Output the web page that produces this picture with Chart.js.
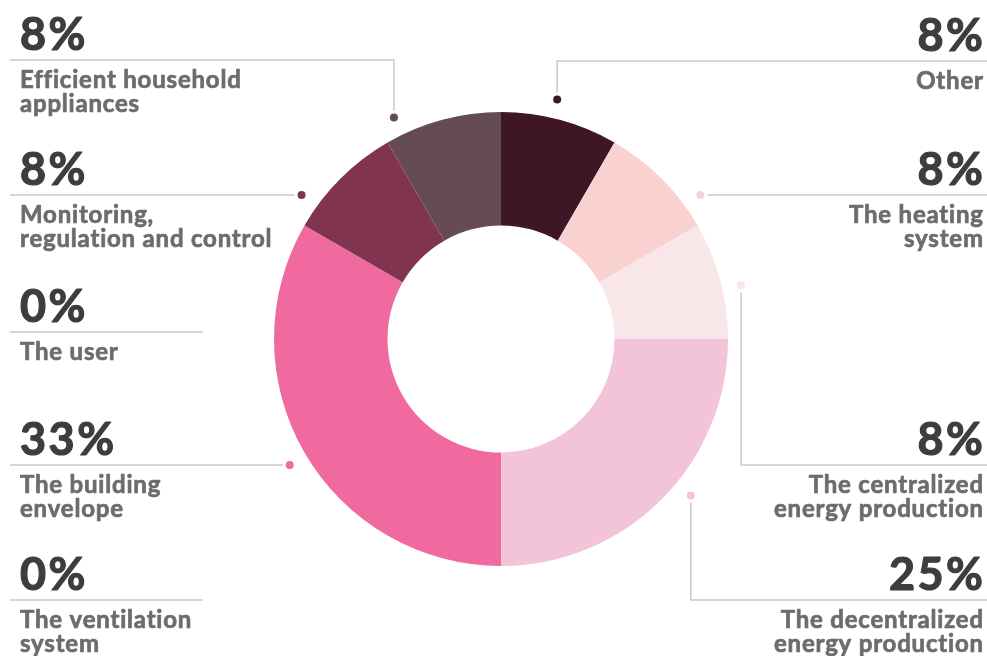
<!DOCTYPE html>
<html>
<head>
<meta charset="utf-8">
<script src="https://cdn.jsdelivr.net/npm/chart.js@4/dist/chart.umd.min.js"></script>
<style>
  html, body { margin: 0; padding: 0; background: #ffffff; }
  canvas { display: block; }
</style>
</head>
<body>
<canvas id="c" width="987" height="656"></canvas>
<script>
// ---- data (clockwise from 12 o'clock) ----
const categories = [
  'Other',
  'The heating system',
  'The centralized energy production',
  'The decentralized energy production',
  'The ventilation system',
  'The building envelope',
  'The user',
  'Monitoring, regulation and control',
  'Efficient household appliances'
];
const shares = [8.33, 8.33, 8.33, 25, 0, 33.33, 0, 8.33, 8.33];
const percentLabels = ['8%', '8%', '8%', '25%', '0%', '33%', '0%', '8%', '8%'];
const labelLines = [
  ['Other'],
  ['The heating', 'system'],
  ['The centralized', 'energy production'],
  ['The decentralized', 'energy production'],
  ['The ventilation', 'system'],
  ['The building', 'envelope'],
  ['The user'],
  ['Monitoring,', 'regulation and control'],
  ['Efficient household', 'appliances']
];

// ---- styles / layout ----
const sliceColors = ['#3e1626', '#f9d1d1', '#f8e6e8', '#f3c3d9', '#e9a6c4', '#f06aa0', '#c4507e', '#813450', '#654c52'];
// callout layout: side, y of the rule, route ('h' dot on rule, 'v' vertical leader, null no dot), angle for 'v' dots
const callouts = [
  { side: 'right', lineY: 61,  route: 'v', angle: 13.2 },
  { side: 'right', lineY: 195, route: 'h' },
  { side: 'right', lineY: 465, route: 'v', angle: 77.4 },
  { side: 'right', lineY: 600, route: 'v', angle: 129.5 },
  { side: 'left',  lineY: 600, route: null, endX: 203 },
  { side: 'left',  lineY: 465, route: 'h' },
  { side: 'left',  lineY: 332, route: null, endX: 203 },
  { side: 'left',  lineY: 195, route: 'h' },
  { side: 'left',  lineY: 60,  route: 'v', angle: 334.2 }
];

function heavyText(ctx, text, x, y, weight) {
  ctx.lineWidth = weight;
  ctx.lineJoin = 'round';
  ctx.strokeStyle = ctx.fillStyle;
  ctx.strokeText(text, x, y);
  ctx.fillText(text, x, y);
}

const calloutPlugin = {
  id: 'callouts',
  afterDraw(chart) {
    const ctx = chart.ctx;
    const meta = chart.getDatasetMeta(0);
    const a0 = meta.data[0];
    const cx = a0.x, cy = a0.y;
    const R = a0.outerRadius + 19;
    const leftX = 10, rightX = 987, textL = 20, textR = 983;
    const gap = 7;
    ctx.save();
    callouts.forEach((c, i) => {
      let dot = null;
      if (c.route === 'h') {
        const dy = c.lineY - cy;
        const dx = Math.sqrt(Math.max(0, R * R - dy * dy));
        dot = { x: c.side === 'left' ? cx - dx : cx + dx, y: c.lineY };
      } else if (c.route === 'v') {
        const t = c.angle * Math.PI / 180;
        dot = { x: cx + R * Math.sin(t), y: cy - R * Math.cos(t) };
      }
      // rules
      ctx.strokeStyle = '#c9c9cd';
      ctx.lineWidth = 1.5;
      ctx.beginPath();
      if (!dot) {
        ctx.moveTo(leftX, c.lineY); ctx.lineTo(c.endX, c.lineY);
      } else if (c.route === 'h') {
        if (c.side === 'left') { ctx.moveTo(leftX, c.lineY); ctx.lineTo(dot.x - gap, c.lineY); }
        else { ctx.moveTo(dot.x + gap, c.lineY); ctx.lineTo(rightX, c.lineY); }
      } else {
        const dir = c.lineY < dot.y ? -1 : 1;
        ctx.moveTo(dot.x, dot.y + dir * gap);
        ctx.lineTo(dot.x, c.lineY);
        ctx.lineTo(c.side === 'left' ? leftX : rightX, c.lineY);
      }
      ctx.stroke();
      // dot
      if (dot) {
        ctx.fillStyle = sliceColors[i];
        ctx.beginPath();
        ctx.arc(dot.x, dot.y, 4, 0, Math.PI * 2);
        ctx.fill();
      }
      // texts
      const tx = c.side === 'left' ? textL : textR;
      ctx.textAlign = c.side === 'left' ? 'left' : 'right';
      ctx.textBaseline = 'alphabetic';
      ctx.fillStyle = '#3d3d3d';
      ctx.font = '700 45px Lato';
      ctx.letterSpacing = '2.5px';
      heavyText(ctx, percentLabels[i], c.side === 'right' ? tx + 2.5 : tx, c.lineY - 10, 1.2);
      ctx.letterSpacing = '0.8px';
      ctx.fillStyle = '#6b6c70';
      ctx.font = '700 24px Lato';
      labelLines[i].forEach((ln, k) => {
        heavyText(ctx, ln, c.side === 'right' ? tx + 0.8 : tx, c.lineY + 28 + k * 24, 0.7);
      });
    });
    ctx.restore();
  }
};

new Chart(document.getElementById('c'), {
  type: 'doughnut',
  data: {
    labels: categories,
    datasets: [{
      data: shares,
      backgroundColor: sliceColors,
      borderWidth: 0,
      hoverOffset: 0
    }]
  },
  options: {
    responsive: false,
    animation: false,
    events: [],
    cutout: '50%',
    layout: { padding: { left: 274, right: 259, top: 112, bottom: 90 } },
    plugins: { legend: { display: false }, tooltip: { enabled: false } }
  },
  plugins: [calloutPlugin]
});
</script>
</body>
</html>
